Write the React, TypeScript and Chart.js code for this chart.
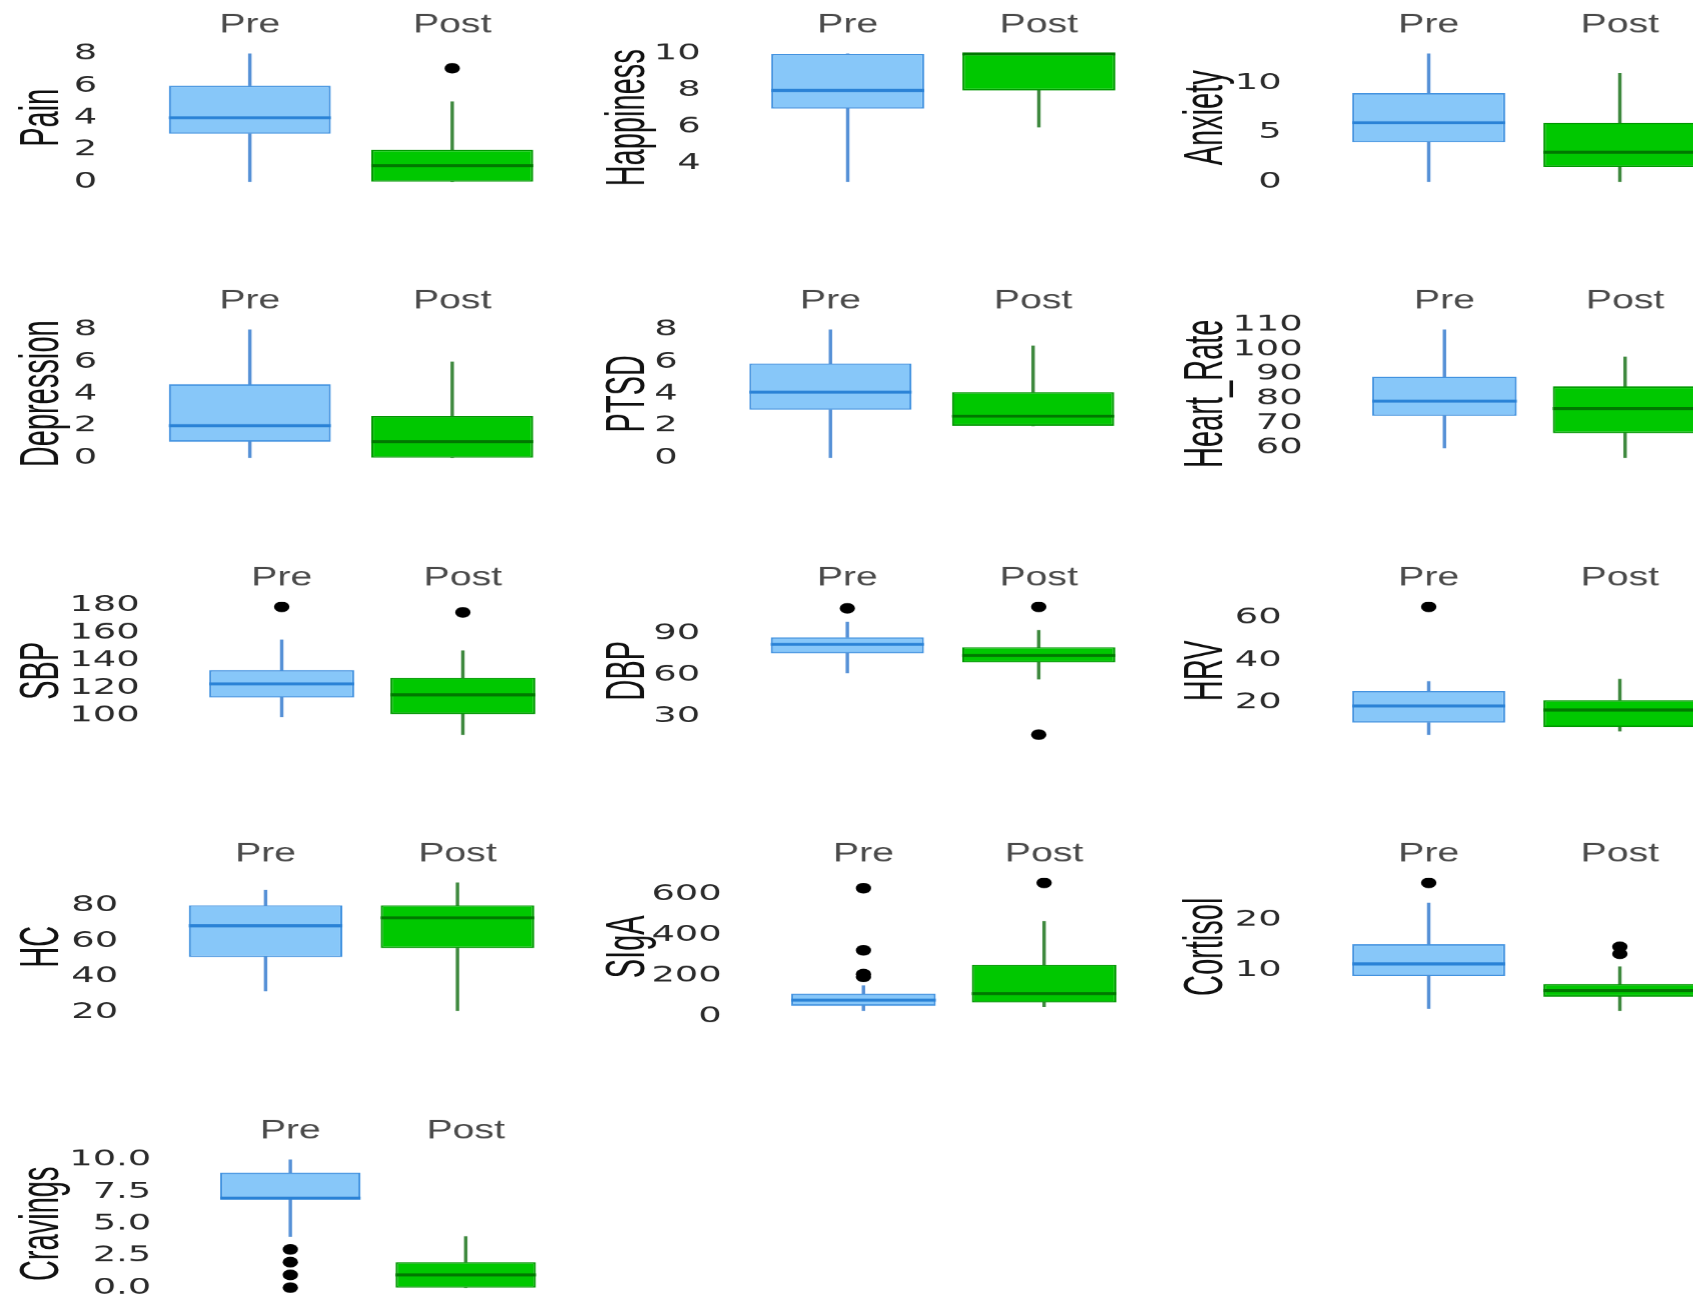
import React, { useEffect, useRef } from "react";
import { Chart, registerables } from "chart.js";

Chart.register(...registerables);

// ---------------- DATA ----------------
// Box summaries: [lower whisker, Q1, median, Q3, upper whisker]
const GROUPS = ["Pre", "Post"];

const PAIN_PRE = [0, 3, 4, 6, 8];
const PAIN_POST = [0, 0, 1, 2, 5];
const PAIN_OUT_PRE: number[] = [];
const PAIN_OUT_POST = [7.1];
const PAIN_TICKS = [0, 2, 4, 6, 8];

const HAPPINESS_PRE = [3, 7, 8, 10, 10];
const HAPPINESS_POST = [6, 8, 10, 10, 10];
const HAPPINESS_OUT_PRE: number[] = [];
const HAPPINESS_OUT_POST: number[] = [];
const HAPPINESS_TICKS = [4, 6, 8, 10];

const ANXIETY_PRE = [0, 4, 6, 9, 13];
const ANXIETY_POST = [0, 1.5, 3, 6, 11];
const ANXIETY_OUT_PRE: number[] = [];
const ANXIETY_OUT_POST: number[] = [];
const ANXIETY_TICKS = [0, 5, 10];

const DEPRESSION_PRE = [0, 1, 2, 4.6, 8];
const DEPRESSION_POST = [0, 0, 1, 2.6, 6];
const DEPRESSION_OUT_PRE: number[] = [];
const DEPRESSION_OUT_POST: number[] = [];
const DEPRESSION_TICKS = [0, 2, 4, 6, 8];

const PTSD_PRE = [0, 3, 4.1, 5.9, 8];
const PTSD_POST = [2, 2, 2.6, 4.1, 7];
const PTSD_OUT_PRE: number[] = [];
const PTSD_OUT_POST: number[] = [];
const PTSD_TICKS = [0, 2, 4, 6, 8];

const HR_PRE = [60, 73, 79, 89, 108];
const HR_POST = [56, 66, 76, 85, 97];
const HR_OUT_PRE: number[] = [];
const HR_OUT_POST: number[] = [];
const HR_TICKS = [60, 70, 80, 90, 100, 110];

const SBP_PRE = [99, 113, 123, 133, 155];
const SBP_POST = [86, 101, 115, 127.5, 147];
const SBP_OUT_PRE = [179];
const SBP_OUT_POST = [175];
const SBP_TICKS = [100, 120, 140, 160, 180];

const DBP_PRE = [61.5, 75.5, 82, 87, 98];
const DBP_POST = [57, 69, 74, 80, 92];
const DBP_OUT_PRE = [108];
const DBP_OUT_POST = [17, 109];
const DBP_TICKS = [30, 60, 90];

const HRV_PRE = [5, 10.7, 18.5, 25.5, 30];
const HRV_POST = [6.7, 8.6, 16.6, 21.2, 31];
const HRV_OUT_PRE = [65];
const HRV_OUT_POST: number[] = [];
const HRV_TICKS = [20, 40, 60];

const HC_PRE = [32, 51, 68.5, 80, 88.5];
const HC_POST = [21, 56, 73, 80, 92.5];
const HC_OUT_PRE: number[] = [];
const HC_OUT_POST: number[] = [];
const HC_TICKS = [20, 40, 60, 80];

const SIGA_PRE = [30, 54, 82, 114, 153];
const SIGA_POST = [50, 70, 114, 256, 469];
const SIGA_OUT_PRE = [196, 210, 327, 632];
const SIGA_OUT_POST = [658];
const SIGA_TICKS = [0, 200, 400, 600];

const CORTISOL_PRE = [2.3, 8.8, 11.2, 15.1, 23.3];
const CORTISOL_POST = [1.9, 4.7, 5.9, 7.2, 10.6];
const CORTISOL_OUT_PRE = [27.3];
const CORTISOL_OUT_POST = [13.2, 14.6];
const CORTISOL_TICKS = [10, 20];

const CRAVINGS_PRE = [4, 7, 7, 9, 10];
const CRAVINGS_POST = [0, 0, 1, 2, 4];
const CRAVINGS_OUT_PRE = [0, 1, 2, 3];
const CRAVINGS_OUT_POST: number[] = [];
const CRAVINGS_TICKS = [0, 2.5, 5, 7.5, 10];

type Measure = {
  name: string;
  pre: number[];
  post: number[];
  outPre: number[];
  outPost: number[];
  ticks: number[];
  decimals: number;
};

const MEASURES: Measure[] = [
  { name: "Pain", pre: PAIN_PRE, post: PAIN_POST, outPre: PAIN_OUT_PRE, outPost: PAIN_OUT_POST, ticks: PAIN_TICKS, decimals: 0 },
  { name: "Happiness", pre: HAPPINESS_PRE, post: HAPPINESS_POST, outPre: HAPPINESS_OUT_PRE, outPost: HAPPINESS_OUT_POST, ticks: HAPPINESS_TICKS, decimals: 0 },
  { name: "Anxiety", pre: ANXIETY_PRE, post: ANXIETY_POST, outPre: ANXIETY_OUT_PRE, outPost: ANXIETY_OUT_POST, ticks: ANXIETY_TICKS, decimals: 0 },
  { name: "Depression", pre: DEPRESSION_PRE, post: DEPRESSION_POST, outPre: DEPRESSION_OUT_PRE, outPost: DEPRESSION_OUT_POST, ticks: DEPRESSION_TICKS, decimals: 0 },
  { name: "PTSD", pre: PTSD_PRE, post: PTSD_POST, outPre: PTSD_OUT_PRE, outPost: PTSD_OUT_POST, ticks: PTSD_TICKS, decimals: 0 },
  { name: "Heart_Rate", pre: HR_PRE, post: HR_POST, outPre: HR_OUT_PRE, outPost: HR_OUT_POST, ticks: HR_TICKS, decimals: 0 },
  { name: "SBP", pre: SBP_PRE, post: SBP_POST, outPre: SBP_OUT_PRE, outPost: SBP_OUT_POST, ticks: SBP_TICKS, decimals: 0 },
  { name: "DBP", pre: DBP_PRE, post: DBP_POST, outPre: DBP_OUT_PRE, outPost: DBP_OUT_POST, ticks: DBP_TICKS, decimals: 0 },
  { name: "HRV", pre: HRV_PRE, post: HRV_POST, outPre: HRV_OUT_PRE, outPost: HRV_OUT_POST, ticks: HRV_TICKS, decimals: 0 },
  { name: "HC", pre: HC_PRE, post: HC_POST, outPre: HC_OUT_PRE, outPost: HC_OUT_POST, ticks: HC_TICKS, decimals: 0 },
  { name: "SIgA", pre: SIGA_PRE, post: SIGA_POST, outPre: SIGA_OUT_PRE, outPost: SIGA_OUT_POST, ticks: SIGA_TICKS, decimals: 0 },
  { name: "Cortisol", pre: CORTISOL_PRE, post: CORTISOL_POST, outPre: CORTISOL_OUT_PRE, outPost: CORTISOL_OUT_POST, ticks: CORTISOL_TICKS, decimals: 0 },
  { name: "Cravings", pre: CRAVINGS_PRE, post: CRAVINGS_POST, outPre: CRAVINGS_OUT_PRE, outPost: CRAVINGS_OUT_POST, ticks: CRAVINGS_TICKS, decimals: 1 },
];

// ---------------- LAYOUT / STYLE ----------------
const SX = 1.45; // horizontal stretch of the whole figure
const TITLE_SX = 1.3; // extra horizontal stretch of the rotated y titles
const TICK_SX = 1.15; // extra horizontal stretch of the y tick labels
const CELL_W = 581;
const CELL_H = 276.4;
const CANVAS_W = 401;
const CANVAS_H = 276;
const X_AXIS_H = 44.4;
const PAD_BOTTOM = CANVAS_H - 186.7;
const PAD_RIGHT = CANVAS_W - 553 / SX;
const PLOT_LEFT = [148.5, 171, 171, 148.5, 148, 192, 191, 170.5, 171, 169.5, 192, 171, 202.5];
const TITLE_CENTER = [42.5, 47.5, 44.5];
const TICK_GAP = 51.5;

const LABEL_FONT = "'Liberation Sans', Arial, sans-serif";
const TICK_FONT = "'DejaVu Sans', sans-serif";

const PRE_STYLE = { fill: "#87c7f9", border: "#4393e0", median: "#2a82d6", whisker: "#5590d6" };
const POST_STYLE = { fill: "#00c800", border: "#009800", median: "#007800", whisker: "#3d883d" };

const medianPlugin = {
  id: "boxMedian",
  afterDatasetsDraw(chart: any, _args: any, opts: any) {
    const meta = chart.getDatasetMeta(0);
    const yScale = chart.scales.y;
    const ctx = chart.ctx;
    (opts.medians as number[]).forEach((med, i) => {
      const bar = meta.data[i];
      if (!bar) return;
      const py = yScale.getPixelForValue(med);
      ctx.save();
      ctx.strokeStyle = opts.colors[i];
      ctx.lineWidth = 3;
      ctx.beginPath();
      ctx.moveTo(bar.x - bar.width / 2, py);
      ctx.lineTo(bar.x + bar.width / 2, py);
      ctx.stroke();
      ctx.restore();
    });
  },
};

function Panel({ m, idx }: { m: Measure; idx: number }) {
  const ref = useRef<HTMLCanvasElement | null>(null);
  const col = idx % 3;
  const row = Math.floor(idx / 3);

  useEffect(() => {
    const canvas = ref.current;
    if (!canvas) return;
    const all = [...m.pre, ...m.post, ...m.outPre, ...m.outPost];
    const lo = Math.min(...all);
    const hi = Math.max(...all);
    const pad = (hi - lo) * 0.04;
    const yWidth = PLOT_LEFT[idx] / SX;
    const titleLH = 29 * 1.2;
    const titlePad = TITLE_CENTER[col] / SX - titleLH / 2;
    const tickPad = TICK_GAP / SX;

    const chart = new Chart(canvas, {
      type: "bar",
      data: {
        labels: GROUPS,
        datasets: [
          {
            label: "box",
            data: [[m.pre[1], m.pre[3]], [m.post[1], m.post[3]]] as any,
            backgroundColor: [PRE_STYLE.fill, POST_STYLE.fill],
            borderColor: [PRE_STYLE.border, POST_STYLE.border],
            borderWidth: 1.5,
            borderSkipped: false,
            barPercentage: 0.8,
            categoryPercentage: 1,
            grouped: false,
            order: 0,
          } as any,
          {
            label: "lower whisker",
            data: [[m.pre[0], m.pre[1]], [m.post[0], m.post[1]]] as any,
            backgroundColor: [PRE_STYLE.whisker, POST_STYLE.whisker],
            borderWidth: 0,
            barThickness: 1.7,
            grouped: false,
            order: 1,
          } as any,
          {
            label: "upper whisker",
            data: [[m.pre[3], m.pre[4]], [m.post[3], m.post[4]]] as any,
            backgroundColor: [PRE_STYLE.whisker, POST_STYLE.whisker],
            borderWidth: 0,
            barThickness: 1.7,
            grouped: false,
            order: 1,
          } as any,
          {
            type: "scatter",
            label: "outliers",
            data: [
              ...m.outPre.map((v) => ({ x: "Pre", y: v })),
              ...m.outPost.map((v) => ({ x: "Post", y: v })),
            ] as any,
            backgroundColor: "#000000",
            borderWidth: 0,
            pointRadius: 5.3,
            pointHoverRadius: 5.3,
            order: -1,
          } as any,
        ],
      },
      options: {
        responsive: false,
        animation: false,
        devicePixelRatio: SX,
        events: [],
        layout: { padding: { left: 0, right: PAD_RIGHT, top: 0, bottom: PAD_BOTTOM } },
        plugins: {
          legend: { display: false },
          tooltip: { enabled: false },
          boxMedian: { medians: [m.pre[2], m.post[2]], colors: [PRE_STYLE.median, POST_STYLE.median] },
        } as any,
        scales: {
          x: {
            type: "category",
            position: "top",
            offset: true,
            grid: { display: false, drawTicks: false },
            border: { display: false },
            ticks: {
              font: { family: LABEL_FONT, size: 27 },
              color: "#4a4a4a",
              padding: 7.7,
              maxRotation: 0,
              autoSkip: false,
            },
            afterFit: (s: any) => {
              s.height = X_AXIS_H;
            },
          },
          y: {
            type: "linear",
            min: lo - pad,
            max: hi + pad,
            grid: { display: false, drawTicks: false },
            border: { display: false },
            ticks: {
              font: { family: TICK_FONT, size: 22 },
              color: "#2a2a2a",
              padding: tickPad,
              autoSkip: false,
              callback: (v: any) => Number(v).toFixed(m.decimals),
            },
            afterBuildTicks: (s: any) => {
              s.ticks = m.ticks.map((v) => ({ value: v }));
            },
            afterFit: (s: any) => {
              s.width = yWidth;
              if (!s.__stretched) {
                s.__stretched = true;
                const origTitle = s.drawTitle.bind(s);
                s.drawTitle = function () {
                  const c = s.ctx;
                  const cx = s.left + titleLH / 2 + titlePad;
                  c.save();
                  c.translate(cx, 0);
                  c.scale(TITLE_SX, 1);
                  c.translate(-cx, 0);
                  origTitle();
                  c.restore();
                };
                const origLabels = s.drawLabels.bind(s);
                s.drawLabels = function (area: any) {
                  const c = s.ctx;
                  const ax = s.right - tickPad;
                  c.save();
                  c.translate(ax, 0);
                  c.scale(TICK_SX, 1);
                  c.translate(-ax, 0);
                  origLabels(area);
                  c.restore();
                };
              }
            },
            title: {
              display: true,
              text: m.name,
              font: { family: LABEL_FONT, size: 29 },
              color: "#111111",
              padding: { top: titlePad, bottom: 0 },
            },
          },
        },
      } as any,
      plugins: [medianPlugin as any],
    });
    return () => chart.destroy();
  }, [m, idx, col]);

  return (
    <div
      style={{
        position: "absolute",
        left: col * CELL_W,
        top: row * CELL_H,
        width: CANVAS_W,
        height: CANVAS_H,
        transform: `scaleX(${SX})`,
        transformOrigin: "0 0",
      }}
    >
      <canvas ref={ref} width={CANVAS_W} height={CANVAS_H} style={{ display: "block" }} />
    </div>
  );
}

export default function App() {
  return (
    <div
      style={{
        position: "fixed",
        left: 0,
        top: 0,
        width: 1693,
        height: 1309,
        overflow: "hidden",
        background: "#ffffff",
      }}
    >
      {MEASURES.map((m, i) => (
        <Panel key={m.name} m={m} idx={i} />
      ))}
    </div>
  );
}
